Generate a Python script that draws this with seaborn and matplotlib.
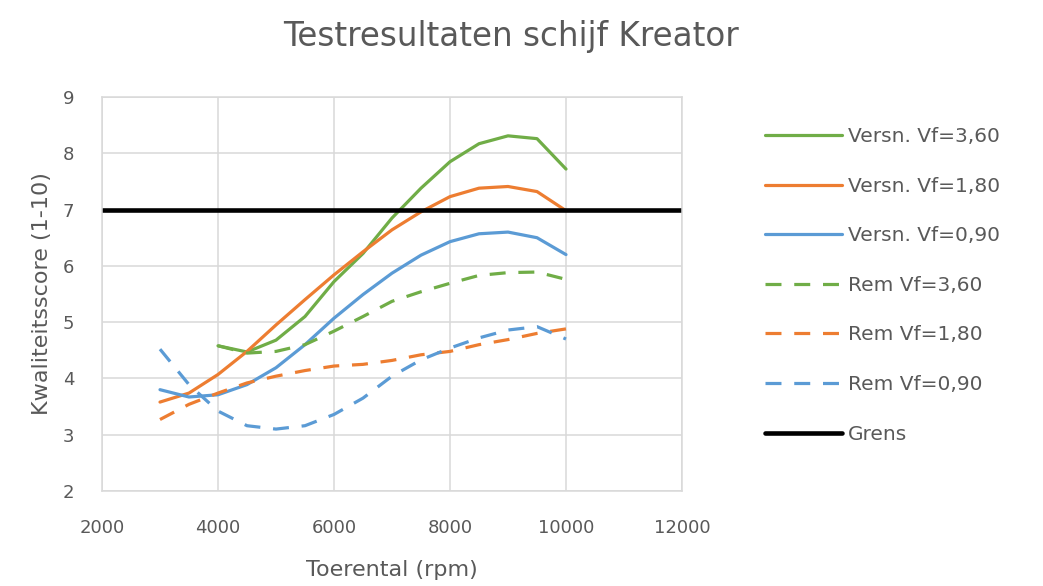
import numpy as np
import pandas as pd
import matplotlib
matplotlib.use("Agg")
import matplotlib.pyplot as plt
import seaborn as sns

# toerental (rpm)
rpm_full = [3000, 3500, 4000, 4500, 5000, 5500, 6000, 6500, 7000, 7500, 8000, 8500, 9000, 9500, 10000]
rpm_from4k = rpm_full[2:]

versn_360 = [4.58, 4.47, 4.68, 5.10, 5.72, 6.22, 6.85, 7.38, 7.85, 8.17, 8.31, 8.26, 7.72]
versn_180 = [3.58, 3.74, 4.07, 4.48, 4.95, 5.40, 5.84, 6.25, 6.64, 6.96, 7.23, 7.38, 7.41, 7.32, 6.98]
versn_090 = [3.80, 3.67, 3.71, 3.89, 4.19, 4.60, 5.07, 5.49, 5.87, 6.19, 6.43, 6.57, 6.60, 6.50, 6.20]
rem_360 = [4.58, 4.45, 4.48, 4.60, 4.84, 5.10, 5.37, 5.54, 5.69, 5.83, 5.88, 5.89, 5.76]
rem_180 = [3.27, 3.54, 3.74, 3.92, 4.04, 4.14, 4.22, 4.25, 4.32, 4.42, 4.48, 4.60, 4.69, 4.80, 4.88]
rem_090 = [4.52, 3.89, 3.42, 3.16, 3.10, 3.16, 3.36, 3.65, 4.04, 4.33, 4.54, 4.72, 4.86, 4.92, 4.70]
grens_x = [2000, 12000]
grens_y = [7, 7]

groen = "#70AD47"
oranje = "#ED7D31"
blauw = "#5B9BD5"
tekst = "#595959"
raster = "#D9D9D9"

sns.set_style("white")
plt.rcParams["font.family"] = ["DejaVu Sans"]

fig = plt.figure(figsize=(10.43, 5.86), dpi=100)
ax = fig.add_axes([102 / 1043, 1 - 491 / 586, 580 / 1043, 394 / 586])

series = [
    ("Versn. Vf=3,60", rpm_from4k, versn_360, groen, False),
    ("Versn. Vf=1,80", rpm_full, versn_180, oranje, False),
    ("Versn. Vf=0,90", rpm_full, versn_090, blauw, False),
    ("Rem Vf=3,60", rpm_from4k, rem_360, groen, True),
    ("Rem Vf=1,80", rpm_full, rem_180, oranje, True),
    ("Rem Vf=0,90", rpm_full, rem_090, blauw, True),
]

for name, xs, ys, col, dashed in series:
    df = pd.DataFrame({"rpm": xs, "score": ys})
    sns.lineplot(data=df, x="rpm", y="score", color=col, lw=2.3, label=name, ax=ax)
    if dashed:
        ax.lines[-1].set_dashes((5, 4))
    ax.lines[-1].set_solid_capstyle("round")
    ax.lines[-1].set_solid_joinstyle("round")

grens_df = pd.DataFrame({"rpm": grens_x, "score": grens_y})
sns.lineplot(data=grens_df, x="rpm", y="score", color="black", lw=3.3, label="Grens", ax=ax)

ax.set_xlim(2000, 12000)
ax.set_ylim(2, 9)
ax.set_xticks(range(2000, 12001, 2000))
ax.set_yticks(range(2, 10))
ax.grid(True, color=raster, lw=1.1)
ax.set_axisbelow(True)
for sp in ax.spines.values():
    sp.set_color(raster)
    sp.set_linewidth(1.1)
ax.tick_params(axis="both", length=0, labelsize=13, colors=tekst)
ax.tick_params(axis="x", pad=20)
ax.tick_params(axis="y", pad=20)

ax.set_xlabel("Toerental (rpm)", fontsize=16, color=tekst)
ax.set_ylabel("Kwaliteitsscore (1-10)", fontsize=16, color=tekst)
ax.xaxis.set_label_coords(0.5, -0.175)
ax.yaxis.set_label_coords(-0.086, 0.5)

fig.suptitle("Testresultaten schijf Kreator", x=0.49, y=0.937, va="center",
             fontsize=23.5, color=tekst)

handles, labels = ax.get_legend_handles_labels()
ax.get_legend().remove()
leg = fig.legend(handles, labels, loc="upper left", bbox_to_anchor=(765 / 1043, 1 - 127 / 586),
                 frameon=False, fontsize=14.5, handlelength=3.8, handletextpad=0.33,
                 labelspacing=1.52, borderpad=0, borderaxespad=0)
for t in leg.get_texts():
    t.set_color(tekst)

fig.savefig("out.png", dpi=100)
